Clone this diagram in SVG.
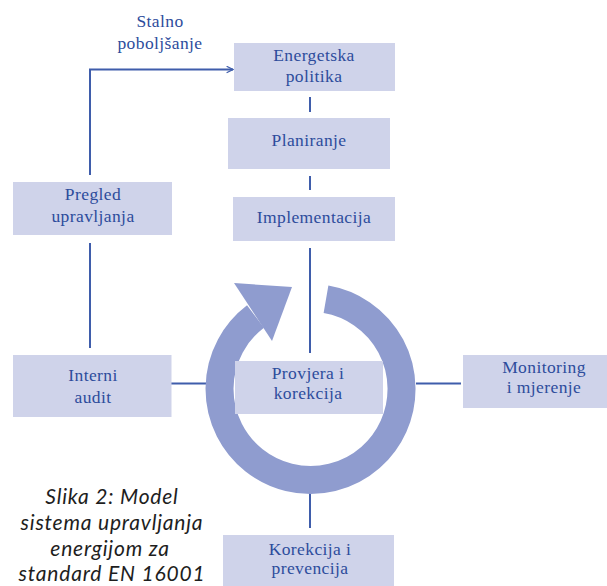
<svg xmlns="http://www.w3.org/2000/svg" width="607" height="586" viewBox="0 0 607 586">
  <style>
    .box { fill: #cfd3ea; }
    .lbl { font-family: "Liberation Serif", "Times New Roman", serif; font-size: 17.5px; letter-spacing: 0.4px; fill: #2d4c9c; text-anchor: middle; }
    .ln { stroke: #3f5dab; stroke-width: 2; fill: none; }
    .cap { font-family: Lato, "Open Sans", sans-serif; font-style: italic; font-size: 21px; letter-spacing: 0.8px; fill: #1e1e1e; text-anchor: middle; }
  </style>
  <defs>
    <marker id="chev" viewBox="0 0 10 10" refX="9" refY="5" markerWidth="8" markerHeight="8" markerUnits="userSpaceOnUse" orient="auto">
      <path d="M1,1 L9,5 L1,9" fill="none" stroke="#3f5dab" stroke-width="1.6"/>
    </marker>
  </defs>
  <rect width="607" height="586" fill="#ffffff"/>

  <g id="connectors">
    <path class="ln" d="M90,175 V69.5 H233" marker-end="url(#chev)"/>
    <line class="ln" x1="310" y1="97" x2="310" y2="112"/>
    <line class="ln" x1="310" y1="176" x2="310" y2="190"/>
    <line class="ln" x1="310" y1="248" x2="310" y2="353"/>
    <line class="ln" x1="90" y1="243" x2="90" y2="348"/>
    <line class="ln" x1="171" y1="383.5" x2="206" y2="383.5"/>
    <line class="ln" x1="416" y1="383.5" x2="461" y2="383.5"/>
    <line class="ln" x1="310" y1="492" x2="310" y2="528"/>
  </g>

  <g id="cycle">
    <path d="M326,299.3 A91,91 0 1 1 255.5,316.5" fill="none" stroke="#8f9ccf" stroke-width="28"/>
    <polygon points="234,283 292,287 272,341" fill="#8f9ccf"/>
  </g>

  <g id="label-stalno">
    <text class="lbl" x="160" y="27">Stalno</text>
    <text class="lbl" x="160" y="49">poboljšanje</text>
  </g>

  <g id="node-energetska">
    <rect class="box" x="234" y="43" width="161" height="48"/>
    <text class="lbl" x="314" y="61">Energetska</text>
    <text class="lbl" x="314" y="82">politika</text>
  </g>

  <g id="node-planiranje">
    <rect class="box" x="228" y="118" width="162" height="51"/>
    <text class="lbl" x="309" y="146">Planiranje</text>
  </g>

  <g id="node-implementacija">
    <rect class="box" x="233" y="197" width="162" height="44"/>
    <text class="lbl" x="314" y="223">Implementacija</text>
  </g>

  <g id="node-pregled">
    <rect class="box" x="13" y="182" width="159" height="53"/>
    <text class="lbl" x="93" y="200">Pregled</text>
    <text class="lbl" x="93" y="222">upravljanja</text>
  </g>

  <g id="node-interni">
    <rect class="box" x="13" y="355" width="158.5" height="62"/>
    <text class="lbl" x="93" y="381">Interni</text>
    <text class="lbl" x="93" y="403">audit</text>
  </g>

  <g id="node-provjera">
    <rect class="box" x="235" y="361" width="148" height="53"/>
    <text class="lbl" x="308" y="379">Provjera i</text>
    <text class="lbl" x="308" y="399">korekcija</text>
  </g>

  <g id="node-monitoring">
    <rect class="box" x="463" y="355" width="144" height="53"/>
    <text class="lbl" x="544" y="373">Monitoring</text>
    <text class="lbl" x="544" y="393">i mjerenje</text>
  </g>

  <g id="node-korekcija">
    <rect class="box" x="223" y="535" width="171" height="51"/>
    <text class="lbl" x="310" y="555">Korekcija i</text>
    <text class="lbl" x="310" y="574">prevencija</text>
  </g>

  <g id="caption">
    <text class="cap" x="112" y="504">Slika 2: Model</text>
    <text class="cap" x="112" y="530">sistema upravljanja</text>
    <text class="cap" x="110" y="556">energijom za</text>
    <text class="cap" x="112" y="581">standard EN 16001</text>
  </g>
</svg>
